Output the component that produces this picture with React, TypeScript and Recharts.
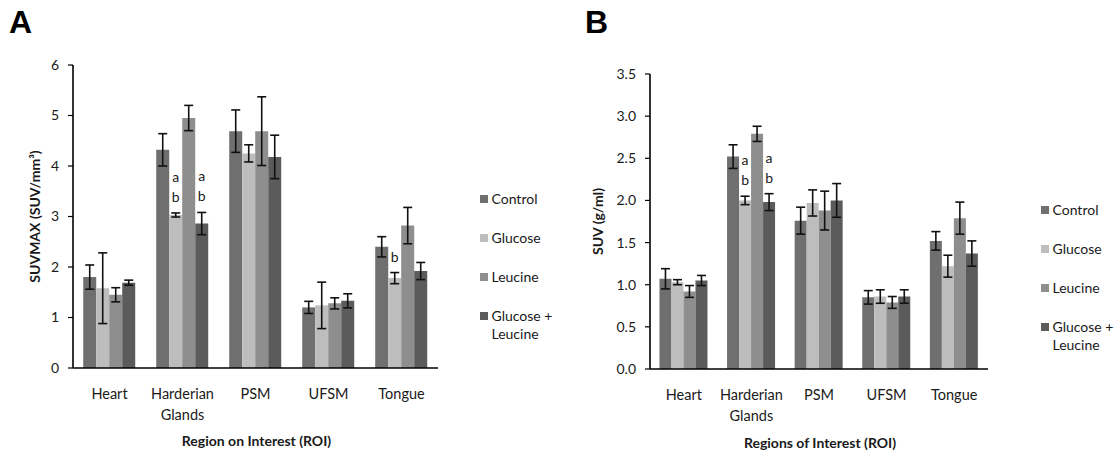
import React from 'react';
import { BarChart, Bar, XAxis, YAxis, ErrorBar, Legend, LabelList } from 'recharts';

const categories = ['Heart', 'Harderian Glands', 'PSM', 'UFSM', 'Tongue'];
const seriesNames = ['Control', 'Glucose', 'Leucine', 'Glucose + Leucine'];
const seriesColors = ['#6f6f6f', '#bdbdbd', '#8e8e8e', '#5b5b5b'];

// Panel A: SUVMAX
const controlA = [1.80, 4.32, 4.69, 1.20, 2.40];
const controlAErr = [0.24, 0.32, 0.42, 0.12, 0.20];
const glucoseA = [1.58, 3.03, 4.25, 1.24, 1.78];
const glucoseAErr = [0.70, 0.04, 0.17, 0.46, 0.11];
const leucineA = [1.45, 4.95, 4.69, 1.28, 2.82];
const leucineAErr = [0.14, 0.25, 0.68, 0.11, 0.36];
const glLeuA = [1.69, 2.86, 4.18, 1.33, 1.92];
const glLeuAErr = [0.05, 0.22, 0.43, 0.14, 0.17];
const annotGlucoseA = ['', 'ab', '', '', 'b'];
const annotGlLeuA = ['', 'ab', '', '', ''];
const ticksA = [0, 1, 2, 3, 4, 5, 6];

// Panel B: SUV
const controlB = [1.07, 2.52, 1.76, 0.85, 1.52];
const controlBErr = [0.12, 0.14, 0.16, 0.08, 0.11];
const glucoseB = [1.03, 2.00, 1.97, 0.86, 1.22];
const glucoseBErr = [0.03, 0.05, 0.155, 0.08, 0.13];
const leucineB = [0.92, 2.79, 1.88, 0.79, 1.79];
const leucineBErr = [0.07, 0.09, 0.23, 0.07, 0.19];
const glLeuB = [1.05, 1.98, 2.00, 0.86, 1.37];
const glLeuBErr = [0.06, 0.10, 0.20, 0.08, 0.15];
const annotGlucoseB = ['', 'ab', '', '', ''];
const annotGlLeuB = ['', 'ab', '', '', ''];
const ticksB = [0, 0.5, 1, 1.5, 2, 2.5, 3, 3.5];

const FONT = 'Lato, "Open Sans", sans-serif';
const TEXT = '#1a1a1a';

const build = (c, ce, g, ge, l, le, gl, gle, ag, agl) =>
  categories.map((name, i) => ({
    name,
    control: c[i], controlErr: ce[i],
    glucose: g[i], glucoseErr: ge[i],
    leucine: l[i], leucineErr: le[i],
    glLeu: gl[i], glLeuErr: gle[i],
    annGlucose: ag[i], annGlLeu: agl[i],
  }));

const dataA = build(controlA, controlAErr, glucoseA, glucoseAErr, leucineA, leucineAErr, glLeuA, glLeuAErr, annotGlucoseA, annotGlLeuA);
const dataB = build(controlB, controlBErr, glucoseB, glucoseBErr, leucineB, leucineBErr, glLeuB, glLeuBErr, annotGlucoseB, annotGlLeuB);

const CatTick = (props: any) => {
  const { x, y, payload } = props;
  const words = String(payload.value).split(' ');
  return (
    <text x={x} y={y + 31} textAnchor="middle" fontFamily={FONT} fontSize={14.5} fill={TEXT}>
      {words.map((w, i) => (
        <tspan key={i} x={x} dy={i === 0 ? 0 : 21}>{w}</tspan>
      ))}
    </text>
  );
};

const makeAnnot = (data, valueKey, errKey) => (props: any) => {
  const { x, y, width, height, index, value } = props;
  if (!value) return null;
  const row = data[index];
  const ppu = height / row[valueKey];
  const errTop = y - row[errKey] * ppu;
  const cx = x + width / 2;
  const letters = String(value).split('');
  return (
    <g>
      {letters.map((ch, i) => {
        const fromBottom = letters.length - 1 - i;
        return (
          <text key={i} x={cx} y={errTop - 11 - fromBottom * 20} textAnchor="middle"
            fontFamily={FONT} fontSize={14} fill={TEXT}>{ch}</text>
        );
      })}
    </g>
  );
};

const LegendContent = (props: any) => {
  const items = seriesNames.map((n, i) => ({ name: n, color: seriesColors[i] }));
  return (
    <div style={{ position: 'relative', width: 90, height: 160, fontFamily: FONT, fontSize: 14, color: TEXT }}>
      {items.map((it, i) => (
        <div key={i} style={{ position: 'absolute', top: i * 39, left: 0, display: 'flex', alignItems: 'flex-start' }}>
          <div style={{ width: 8, height: 8, background: it.color, marginTop: 5, marginRight: 3.5, flex: 'none' }} />
          <div style={{ lineHeight: '18px', whiteSpace: 'pre' }}>{it.name.replace('+ ', '+\n')}</div>
        </div>
      ))}
    </div>
  );
};

const Panel = (p: any) => {
  const { data, width, height, margin, yWidth, domain, ticks, fmt, yTitle, yTitleX, xTitle, xTitleY, legendLeft, legendTop } = p;
  return (
    <BarChart width={width} height={height} data={data} margin={margin} barCategoryGap="14%" barGap={0}>
      <XAxis dataKey="name" axisLine={{ stroke: '#000', strokeWidth: 1.6 }} tickLine={false} tickSize={0} tickMargin={0}
        height={30} interval={0} tick={<CatTick />}
        label={{
          content: (lp: any) => {
            const vb = lp.viewBox;
            return (
              <text x={vb.x + vb.width / 2 + 1} y={xTitleY} textAnchor="middle" fontFamily={FONT} fontWeight="bold" fontSize={14} fill={TEXT}>{xTitle}</text>
            );
          },
        }}
      />
      <YAxis width={yWidth} domain={domain} ticks={ticks} interval={0} allowDataOverflow
        axisLine={{ stroke: '#000', strokeWidth: 1.6 }} tickLine={{ stroke: '#000', strokeWidth: 1.2 }} tickSize={5} tickMargin={9}
        tickFormatter={fmt} tick={{ fontFamily: FONT, fontSize: 14, fill: TEXT }}
        label={{
          content: (lp: any) => {
            const vb = lp.viewBox;
            const cy = vb.y + vb.height / 2;
            return (
              <text x={yTitleX} y={cy} transform={`rotate(-90 ${yTitleX} ${cy})`} textAnchor="middle" dominantBaseline="central"
                fontFamily={FONT} fontWeight="bold" fontSize={14} fill={TEXT}>{yTitle}</text>
            );
          },
        }}
      />
      <Legend layout="vertical" align="center" verticalAlign="middle" content={<LegendContent />}
        wrapperStyle={{ left: legendLeft, top: legendTop, width: 90, height: 160 }} />
      <Bar dataKey="control" name={seriesNames[0]} fill={seriesColors[0]} isAnimationActive={false}>
        <ErrorBar dataKey="controlErr" width={4.5} strokeWidth={1.6} stroke="#111" direction="y" />
      </Bar>
      <Bar dataKey="glucose" name={seriesNames[1]} fill={seriesColors[1]} isAnimationActive={false}>
        <ErrorBar dataKey="glucoseErr" width={4.5} strokeWidth={1.6} stroke="#111" direction="y" />
        <LabelList dataKey="annGlucose" content={makeAnnot(data, 'glucose', 'glucoseErr')} />
      </Bar>
      <Bar dataKey="leucine" name={seriesNames[2]} fill={seriesColors[2]} isAnimationActive={false}>
        <ErrorBar dataKey="leucineErr" width={4.5} strokeWidth={1.6} stroke="#111" direction="y" />
      </Bar>
      <Bar dataKey="glLeu" name={seriesNames[3]} fill={seriesColors[3]} isAnimationActive={false}>
        <ErrorBar dataKey="glLeuErr" width={4.5} strokeWidth={1.6} stroke="#111" direction="y" />
        <LabelList dataKey="annGlLeu" content={makeAnnot(data, 'glLeu', 'glLeuErr')} />
      </Bar>
    </BarChart>
  );
};

const headStyle: React.CSSProperties = {
  position: 'absolute', fontFamily: '"Liberation Sans", Arial, sans-serif', fontWeight: 'bold', fontSize: 32, lineHeight: '32px', top: 6,
};

export default function App() {
  return (
    <div style={{ position: 'absolute', left: 0, top: 0, width: 1118, height: 456, background: '#fff', overflow: 'hidden' }}>
      <div style={{ ...headStyle, left: 9 }}>A</div>
      <div style={{ ...headStyle, left: 585 }}>B</div>
      <div style={{ position: 'absolute', left: 0, top: 0 }}>
        <Panel data={dataA} width={560} height={456} margin={{ top: 65, right: 122, left: 0, bottom: 58 }} yWidth={73}
          domain={[0, 6]} ticks={ticksA} fmt={(v) => String(v)} yTitle="SUVMAX (SUV/mm³)" yTitleX={34}
          xTitle="Region on Interest (ROI)" xTitleY={446} legendLeft={480} legendTop={190} />
      </div>
      <div style={{ position: 'absolute', left: 560, top: 0 }}>
        <Panel data={dataB} width={558} height={456} margin={{ top: 74, right: 130, left: 0, bottom: 57 }} yWidth={90}
          domain={[0, 3.5]} ticks={ticksB} fmt={(v) => v.toFixed(1)} yTitle="SUV (g/ml)" yTitleX={37}
          xTitle="Regions of Interest (ROI)" xTitleY={448} legendLeft={481} legendTop={201} />
      </div>
    </div>
  );
}
